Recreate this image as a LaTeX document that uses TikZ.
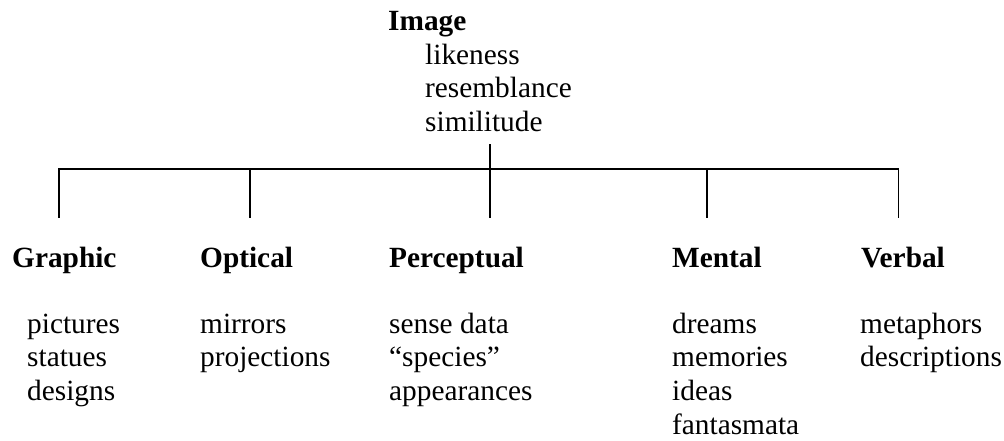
\documentclass[tikz,border=0pt]{standalone}
\usepackage{fontspec}
\setmainfont{Liberation Serif}
\newcommand\itemstack[1]{\begin{tabular}[t]{@{}l@{}}#1\end{tabular}}
\begin{document}
\begin{tikzpicture}[x=1pt,y=-1pt,
  lbl/.style={anchor=base west, inner sep=0pt,
    font=\fontsize{29.33}{33.7}\selectfont},
  head/.style={lbl, font=\fontsize{29.33}{33.7}\selectfont\bfseries},
  conn/.style={line width=1.3pt, line cap=rect},
  bar/.style={line width=1.7pt}]
\useasboundingbox (0,0) rectangle (1004,440);
% root
\node[head] (image) at (388,30) {Image};
\node[lbl] (imgitems) at (425,64) {\itemstack{likeness\\resemblance\\similitude}};
% headings
\node[head] (graphic) at (12,267) {Graphic};
\node[head] (optical) at (200,267) {Optical};
\node[head] (perceptual) at (389,267) {Perceptual};
\node[head] (mental) at (672,267) {Mental};
\node[head] (verbal) at (861,267) {Verbal};
% items
\node[lbl] (graphicitems) at (27,333) {\itemstack{pictures\\statues\\designs}};
\node[lbl] (opticalitems) at (200,333) {\itemstack{mirrors\\projections}};
\node[lbl] (perceptualitems) at (389,333) {\itemstack{sense data\\“species”\\appearances}};
\node[lbl] (mentalitems) at (672,333) {\itemstack{dreams\\memories\\ideas\\fantasmata}};
\node[lbl] (verbalitems) at (860,333) {\itemstack{metaphors\\descriptions}};
% connector points
\coordinate (rootbot) at (490,145);
\coordinate (hub) at (490,169);
\coordinate (barL) at (59,169);
\coordinate (barR) at (898.5,169);
\coordinate (gTop) at (59,169);   \coordinate (gEnd) at (59,217);
\coordinate (oTop) at (250,169);  \coordinate (oEnd) at (250,217);
\coordinate (pTop) at (490,169);  \coordinate (pEnd) at (490,217);
\coordinate (mTop) at (707,169);  \coordinate (mEnd) at (707,217);
\coordinate (vTop) at (898.5,169);\coordinate (vEnd) at (898.5,217);
% connectors
\draw[bar] (barL) -- (barR);
\draw[conn] (rootbot) -- (hub);
\draw[conn] (gTop) -- (gEnd);
\draw[conn] (oTop) -- (oEnd);
\draw[conn] (pTop) -- (pEnd);
\draw[conn] (mTop) -- (mEnd);
\draw[conn] (vTop) -- (vEnd);
\end{tikzpicture}
\end{document}
